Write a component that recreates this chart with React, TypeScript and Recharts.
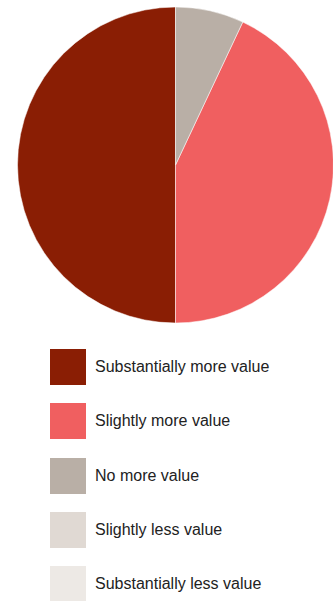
import { Cell, Pie, PieChart } from "recharts";

const categories = [
  "Substantially more value",
  "Slightly more value",
  "No more value",
  "Slightly less value",
  "Substantially less value",
];
const shares = [50, 43, 7, 0, 0]; // percent of respondents
const colors = ["#8a1e04", "#f05f60", "#b9afa6", "#e0d9d3", "#ede9e5"];

const data = categories.map((name, i) => ({ name, value: shares[i], color: colors[i] }));

export default function App() {
  const slices = data.filter((d) => d.value > 0);
  return (
    <div
      style={{
        position: "absolute",
        left: 0,
        top: 0,
        width: 333,
        height: 601,
        background: "#fff",
        fontFamily: "'Liberation Sans', Arial, sans-serif",
      }}
    >
      <PieChart width={333} height={330} margin={{ top: 0, right: 0, bottom: 0, left: 0 }}>
        <Pie
          data={slices}
          dataKey="value"
          nameKey="name"
          cx={175.5}
          cy={165}
          outerRadius={158}
          startAngle={90}
          endAngle={450}
          stroke="#fff"
          strokeWidth={0.5}
          isAnimationActive={false}
        >
          {slices.map((d) => (
            <Cell key={d.name} fill={d.color} />
          ))}
        </Pie>
      </PieChart>
      <div style={{ position: "absolute", left: 50, top: 349 }}>
        {data.map((d) => (
          <div
            key={d.name}
            style={{ display: "flex", alignItems: "center", height: 36, marginBottom: 18.25 }}
          >
            <div style={{ width: 36, height: 36, background: d.color }} />
            <span style={{ marginLeft: 9, fontSize: 16, color: "#222" }}>{d.name}</span>
          </div>
        ))}
      </div>
    </div>
  );
}
